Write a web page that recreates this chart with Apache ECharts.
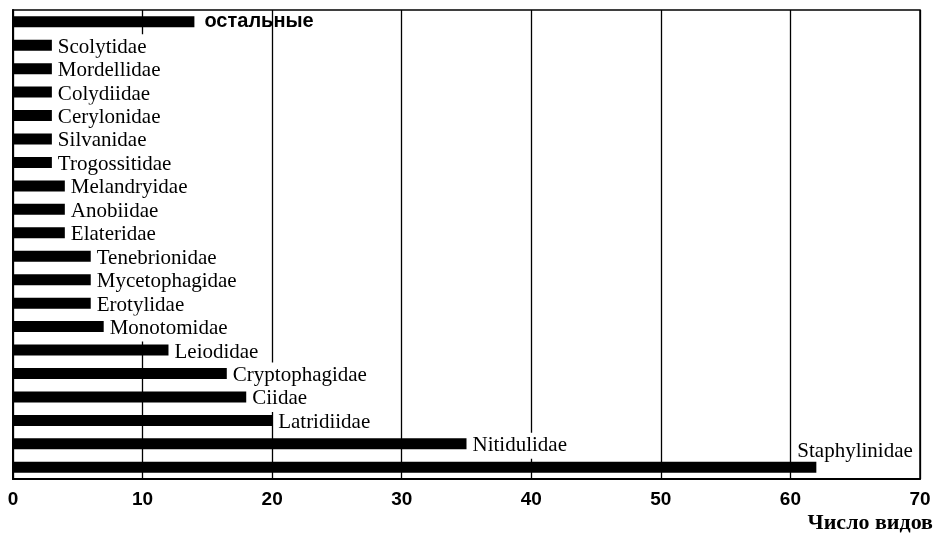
<!DOCTYPE html>
<html>
<head>
<meta charset="utf-8">
<script src="https://cdn.jsdelivr.net/npm/echarts@6/dist/echarts.min.js"></script>
<style>
  html, body { margin: 0; padding: 0; background: #fff; }
  #chart { width: 949px; height: 535px; }
</style>
</head>
<body>
<div id="chart"></div>
<script>
// families, top to bottom
const families = [
  'остальные', 'Scolytidae', 'Mordellidae', 'Colydiidae', 'Cerylonidae',
  'Silvanidae', 'Trogossitidae', 'Melandryidae', 'Anobiidae', 'Elateridae',
  'Tenebrionidae', 'Mycetophagidae', 'Erotylidae', 'Monotomidae', 'Leiodidae',
  'Cryptophagidae', 'Ciidae', 'Latridiidae', 'Nitidulidae', 'Staphylinidae'
];
// number of species
const speciesCount = [14, 3, 3, 3, 3, 3, 3, 4, 4, 4, 6, 6, 6, 7, 12, 16.5, 18, 20, 35, 62];
const xTicks = [0, 10, 20, 30, 40, 50, 60, 70];

const chart = echarts.init(document.getElementById('chart'));

// white label boxes hide the grid lines behind the names
const labelBase = {
  show: true,
  position: 'right',
  distance: 5,
  formatter: '{b}',
  fontFamily: 'Liberation Serif',
  fontSize: 21,
  lineHeight: 22,
  color: '#000',
  backgroundColor: '#fff',
  padding: [2, 2, 2, 1],
  offset: [0, 2]
};

const barData = speciesCount.map((v, i) => {
  const d = { value: v };
  if (families[i] === 'остальные') {
    d.label = { backgroundColor: 'transparent', fontWeight: 'bold', fontSize: 20, fontFamily: 'Liberation Sans', offset: [4, 0] };
  }
  if (families[i] === 'Staphylinidae') {
    // sits above the end of the long bar
    d.label = { offset: [-25, -16], backgroundColor: 'transparent' };
  }
  return d;
});

chart.setOption({
  animation: false,
  title: {
    text: 'Число видов',
    right: 16,
    bottom: 1,
    padding: 0,
    textStyle: { fontFamily: 'Liberation Serif', fontWeight: 'bold', fontSize: 22, color: '#000' }
  },
  grid: {
    left: 13, right: 29, top: 10, bottom: 56,
    show: true, borderColor: '#000', borderWidth: 1.5, backgroundColor: 'transparent'
  },
  xAxis: {
    type: 'value',
    min: 0,
    max: 70,
    interval: 10,
    axisLine: { show: true, lineStyle: { color: '#000', width: 2 } },
    axisTick: { show: false },
    splitLine: { show: true, lineStyle: { color: '#000', width: 1.3 } },
    axisLabel: {
      margin: 11,
      fontFamily: 'Liberation Sans',
      fontWeight: 'bold',
      fontSize: 19,
      color: '#000',
      formatter: (v) => (xTicks.includes(v) ? String(v) : '')
    }
  },
  yAxis: {
    type: 'category',
    inverse: true,
    data: families,
    axisLine: { show: true, lineStyle: { color: '#000', width: 2 } },
    axisTick: { show: false },
    axisLabel: { show: false },
    splitLine: { show: false }
  },
  series: [{
    type: 'bar',
    data: barData,
    barWidth: 11,
    itemStyle: { color: '#000' },
    label: labelBase,
    emphasis: { disabled: true }
  }]
});
</script>
</body>
</html>
